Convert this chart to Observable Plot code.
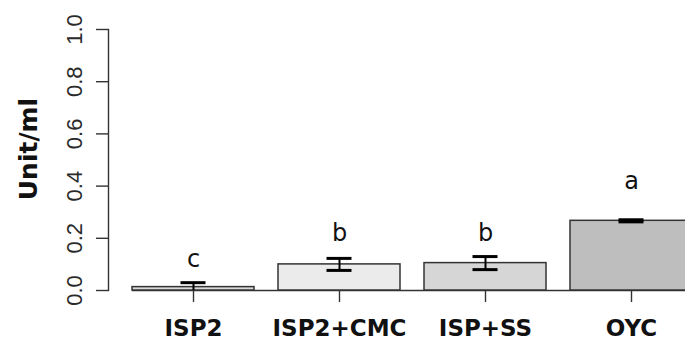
<!DOCTYPE html>
<html>
<head>
<meta charset="utf-8">
<script src="https://cdn.jsdelivr.net/npm/d3@7"></script>
<script src="https://cdn.jsdelivr.net/npm/@observablehq/plot@0.6"></script>
<style>
  html, body { margin: 0; padding: 0; background: #fff; }
  svg { overflow: hidden; }
</style>
</head>
<body>
<div id="chart"></div>
<script>
// ---- data ----
const categories = ["ISP2", "ISP2+CMC", "ISP+SS", "OYC"];
const means      = [0.013, 0.100, 0.105, 0.267];
const errors     = [0.017, 0.023, 0.025, 0.004];
const letters    = ["c", "b", "b", "a"];
const letterY    = [0.119, 0.221, 0.221, 0.420];
const fills      = ["#d9d9d9", "#ebebeb", "#d6d6d6", "#bebebe"];
const yTicks     = [0, 0.2, 0.4, 0.6, 0.8, 1.0];
const yTickLabels = ["0.0", "0.2", "0.4", "0.6", "0.8", "1.0"];
const yTitle = "Unit/ml";

const rows = categories.map((c, i) => ({
  cat: c, mean: means[i], lo: Math.max(0, means[i] - errors[i]), hi: means[i] + errors[i],
  letter: letters[i], ly: letterY[i], fill: fills[i]
}));

const ink = "#333";
const chart = Plot.plot({
  width: 685,
  height: 343,
  marginLeft: 108,
  marginRight: 0,
  marginTop: 29,
  marginBottom: 53,
  x: { domain: categories, range: [131, 693.5], paddingInner: 0.164, paddingOuter: 0, axis: null },
  y: { domain: [0, 1], axis: null },
  marks: [
    Plot.frame({ anchor: "left", stroke: ink, strokeWidth: 1.4 }),
    Plot.axisY({
      ticks: yTicks, tickFormat: (d) => yTickLabels[yTicks.indexOf(d)],
      tickSize: 12, tickPadding: 15, tickRotate: -90,
      fontSize: 22, fontFamily: "Liberation Sans, Arial, sans-serif",
      fill: "#2a2a2a", stroke: ink, strokeWidth: 1.4, label: null
    }),
    Plot.text([yTitle], {
      frameAnchor: "left", dx: -80, dy: -11, rotate: -90, text: d => d, textAnchor: "middle",
      fontSize: 25, fontWeight: "bold", fontFamily: "DejaVu Sans, sans-serif", fill: "#111"
    }),
    Plot.ruleY([0], { x1: () => categories[0], x2: () => categories[categories.length - 1], stroke: ink, strokeWidth: 1.5 }),
    Plot.barY(rows, { x: "cat", y: "mean", fill: "fill", stroke: ink, strokeWidth: 1.5 }),
    Plot.ruleX(rows, { x: "cat", y1: "lo", y2: "hi", stroke: "#000", strokeWidth: 2 }),
    Plot.tickY(rows, { x: "cat", y: "hi", stroke: "#000", strokeWidth: 3, inset: 48.5 }),
    Plot.tickY(rows.filter(d => d.lo > 0), { x: "cat", y: "lo", stroke: "#000", strokeWidth: 3, inset: 48.5 }),
    Plot.text(rows, {
      x: "cat", y: "ly", text: "letter",
      fontSize: 24, fontFamily: "DejaVu Sans, sans-serif", fill: "#111"
    }),
    Plot.axisX({
      tickSize: 12, tickPadding: 17, fontSize: 23, fontWeight: "bold",
      fontFamily: "DejaVu Sans, sans-serif", fill: "#111", stroke: ink, strokeWidth: 1.4, label: null
    })
  ]
});
document.getElementById("chart").appendChild(chart);
</script>
</body>
</html>
